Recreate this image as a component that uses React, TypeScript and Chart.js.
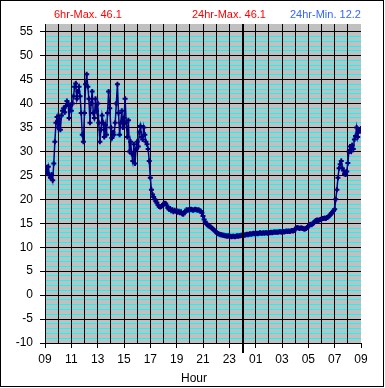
import React, { useEffect, useRef } from "react";
import { Chart, registerables } from "chart.js";

Chart.register(...registerables);

const hourLabels = [
  "09", "10", "11", "12", "13", "14", "15", "16", "17", "18", "19", "20", "21",
  "22", "23", "00", "01", "02", "03", "04", "05", "06", "07", "08", "09",
];
const yTickValues = [-10, -5, 0, 5, 10, 15, 20, 25, 30, 35, 40, 45, 50, 55];
const stepMinutes = 5;
const midnightHour = 15;

// temperature every 5 minutes starting 09:00
const temps = [
  27.0, 26.2, 25.5, 26.8, 25.0, 24.5, 25.2, 24.0, 27.5, 32.0, 36.0, 37.2,
  35.0, 36.8, 34.5, 37.5, 38.5, 39.0, 38.2, 39.5, 40.5, 40.0, 37.0, 39.5,
  38.5, 40.0, 41.5, 43.5, 44.2, 41.0, 42.5, 43.5, 41.5, 38.0, 33.5, 32.0,
  38.0, 44.0, 46.1, 43.5, 41.0, 36.0, 40.0, 42.5, 38.0, 37.0, 41.0, 38.5,
  40.0, 36.0, 32.0, 34.5, 37.5, 36.0, 33.0, 35.5, 33.5, 38.0, 42.5, 39.0,
  35.0, 32.8, 34.0, 33.5, 36.0, 40.0, 44.0, 38.0, 33.5, 36.0, 38.5, 35.0,
  37.0, 41.0, 36.0, 33.0, 36.5, 30.0, 32.0, 29.5, 28.0, 31.5, 27.5, 30.5,
  32.0, 31.0, 34.0, 35.3, 33.0, 32.5, 35.0, 33.5, 32.0, 31.5, 30.5, 28.0,
  24.5, 22.0, 21.0, 20.5, 20.0, 19.6, 19.3, 18.8, 18.5, 18.4, 18.5, 18.7,
  19.0, 19.2, 19.1, 18.7, 18.2, 17.9, 18.1, 17.6, 17.8, 17.4, 17.7, 17.5,
  17.6, 17.3, 17.5, 17.2, 17.4, 17.0, 16.9, 17.2, 17.5, 17.8, 17.7, 17.8,
  17.8, 17.9, 17.8, 17.7, 17.8, 17.9, 17.8, 17.7, 17.8, 17.6, 17.5, 17.2,
  16.5, 15.8, 15.3, 14.9, 14.7, 14.5, 14.3, 14.2, 14.0, 13.8, 13.6, 13.4,
  13.1, 12.9, 12.8, 12.7, 12.6, 12.6, 12.5, 12.5, 12.4, 12.4, 12.3, 12.4,
  12.3, 12.3, 12.2, 12.3, 12.3, 12.2, 12.3, 12.4, 12.3, 12.4, 12.4, 12.5,
  12.5, 12.6, 12.5, 12.6, 12.7, 12.6, 12.7, 12.8, 12.7, 12.8, 12.9, 12.8,
  12.8, 12.9, 12.8, 12.9, 13.0, 12.9, 12.9, 13.0, 12.9, 13.0, 13.0, 12.9,
  13.0, 13.0, 13.1, 13.0, 13.1, 13.2, 13.1, 13.2, 13.1, 13.2, 13.3, 13.2,
  13.2, 13.3, 13.2, 13.3, 13.4, 13.3, 13.4, 13.3, 13.4, 13.5, 13.4, 13.5,
  13.8, 14.0, 14.1, 14.0, 13.9, 14.0, 14.0, 13.9, 13.8, 13.8, 13.9, 14.1,
  14.4, 14.7, 14.8, 14.7, 14.9, 15.1, 15.4, 15.6, 15.7, 15.6, 15.7, 15.8,
  15.9, 16.0, 16.0, 16.1, 16.0, 16.2, 16.3, 16.5, 16.8, 17.1, 17.3, 17.6,
  17.9, 20.0, 22.0, 24.5, 26.5, 27.3, 28.0, 26.5, 26.0, 25.3, 25.2, 25.8,
  27.6, 30.0, 31.0, 30.0, 31.3, 30.5, 32.5, 33.2, 35.0, 33.0, 34.5, 34.2,
  34.8,
];

const headerTexts = [
  { text: "6hr-Max. 46.1", color: "#ff0000", x: 54 },
  { text: "24hr-Max. 46.1", color: "#ff0000", x: 192 },
  { text: "24hr-Min. 12.2", color: "#3366ff", x: 290 },
];
const axisTitle = "Hour";

const FONT = "'Liberation Sans', Arial, sans-serif";

const decorPlugin = {
  id: "decor",
  beforeDraw(chart: any) {
    const { ctx, chartArea } = chart;
    ctx.save();
    ctx.fillStyle = "#ffffff";
    ctx.fillRect(0, 0, chart.width, chart.height);
    ctx.fillStyle = "#c0c0c0";
    ctx.fillRect(chartArea.left, chartArea.top, chartArea.right - chartArea.left, chartArea.bottom - chartArea.top);
    ctx.restore();
  },
  afterDraw(chart: any) {
    const { ctx, chartArea } = chart;
    const xs = chart.scales.x;
    ctx.save();
    // midnight marker extension below axis
    const mx = Math.round(xs.getPixelForValue(midnightHour));
    ctx.strokeStyle = "#000";
    ctx.lineWidth = 2;
    ctx.beginPath();
    ctx.moveTo(mx, chartArea.top);
    ctx.lineTo(mx, chartArea.bottom + 10);
    ctx.stroke();
    // header texts
    ctx.font = `11px ${FONT}`;
    ctx.textAlign = "left";
    ctx.textBaseline = "alphabetic";
    headerTexts.forEach((h) => {
      ctx.fillStyle = h.color;
      ctx.fillText(h.text, h.x, 18);
    });
    // axis title
    ctx.fillStyle = "#000";
    ctx.font = `12px ${FONT}`;
    ctx.textAlign = "center";
    ctx.fillText(axisTitle, 194, 382);
    // outer frame
    ctx.strokeStyle = "#000";
    ctx.lineWidth = 1;
    ctx.strokeRect(0.5, 0.5, 383, 386);
    ctx.restore();
  },
};

export default function App() {
  const ref = useRef<HTMLCanvasElement>(null);
  useEffect(() => {
    document.body.style.margin = "0";
    const points = temps.map((t, i) => ({ x: (i * stepMinutes) / 60, y: t }));
    const chart = new Chart(ref.current as HTMLCanvasElement, {
      type: "line",
      data: {
        datasets: [
          {
            data: points,
            borderColor: "#000080",
            borderWidth: 1.5,
            pointStyle: "cross",
            pointRadius: 2.5,
            pointBorderWidth: 2,
            pointBorderColor: "#000080",
            pointBackgroundColor: "#000080",
            fill: false,
            tension: 0,
          },
        ],
      },
      options: {
        responsive: false,
        animation: false,
        devicePixelRatio: 1,
        layout: { padding: { left: 0, right: 24, top: 24, bottom: 0 } },
        plugins: { legend: { display: false }, tooltip: { enabled: false } },
        scales: {
          x: {
            type: "linear",
            min: 0,
            max: 24,
            afterFit: (s: any) => {
              s.height = 45;
            },
            ticks: {
              stepSize: 1,
              autoSkip: false,
              maxRotation: 0,
              color: "#000",
              padding: 4,
              font: { family: FONT, size: 12 },
              callback: (_v: any, i: number) => (i % 2 === 0 ? hourLabels[i] : ""),
            },
            grid: {
              color: (c: any) => (c.tick && c.tick.value >= 24 ? "rgba(0,0,0,0)" : "#000"),
              tickColor: (c: any) => (c.index % 2 === 0 ? "#000" : "rgba(0,0,0,0)"),
              lineWidth: (c: any) => (c.tick && c.tick.value === midnightHour ? 2 : 1),
              tickLength: 5,
            },
            border: { display: true, color: "#000", width: 1 },
          },
          y: {
            min: -10,
            max: 56.6,
            afterFit: (s: any) => {
              s.width = 45;
            },
            afterBuildTicks: (s: any) => {
              s.ticks = yTickValues.map((v) => ({ value: v }));
            },
            ticks: {
              color: "#000",
              padding: 7,
              font: { family: FONT, size: 12 },
            },
            grid: { color: "#000", tickLength: 5 },
            border: { display: true, color: "#000", width: 1 },
          },
          y2: {
            position: "left",
            min: -10,
            max: 56.6,
            afterFit: (s: any) => {
              s.width = 0;
            },
            afterBuildTicks: (s: any) => {
              s.ticks = s.ticks.filter((t: any) => t.value <= 55);
            },
            ticks: { display: false, stepSize: 1 },
            grid: { color: "#00ffff", drawTicks: false, z: -2 },
            border: { display: false },
          },
        },
      } as any,
      plugins: [decorPlugin],
    });
    return () => chart.destroy();
  }, []);
  return <canvas ref={ref} width={385} height={388} style={{ display: "block" }} />;
}
